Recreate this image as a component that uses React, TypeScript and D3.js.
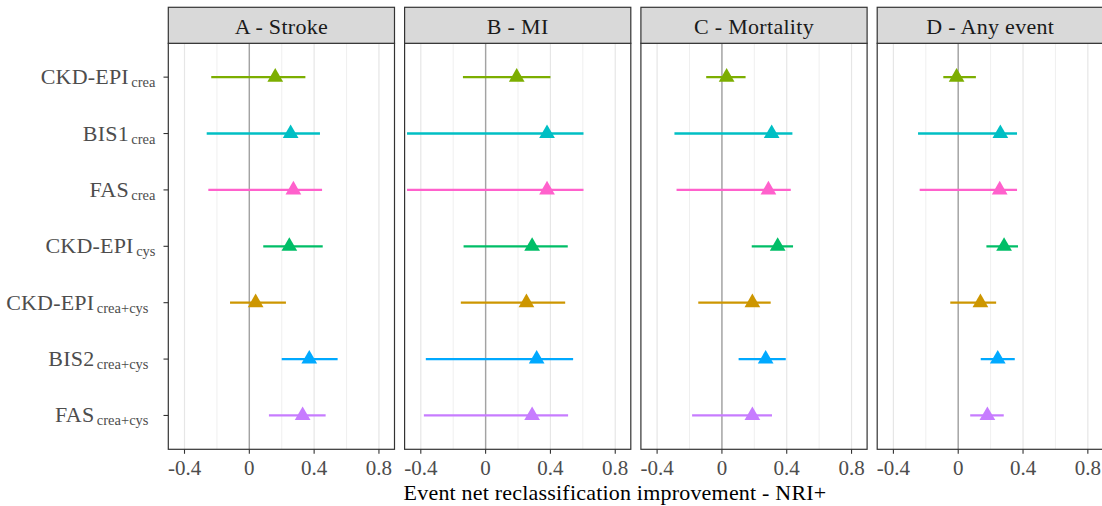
import React from "react";
import * as d3 from "d3";

// Panel (outcome) titles
const panelTitles = ["A - Stroke", "B - MI", "C - Mortality", "D - Any event"];

// GFR equations: main name and subscript
const modelNames = ["CKD-EPI", "BIS1", "FAS", "CKD-EPI", "CKD-EPI", "BIS2", "FAS"];
const modelSubs = ["crea", "crea", "crea", "cys", "crea+cys", "crea+cys", "crea+cys"];
const modelColors = ["#7CAE00", "#00BFC4", "#FF61CC", "#00BE67", "#CD9600", "#00A9FF", "#C77CFF"];

// Event NRI+ estimates with lower / upper 95% CI, one array per outcome
const strokeEst = [0.16, 0.255, 0.272, 0.247, 0.039, 0.37, 0.329];
const strokeLo = [-0.235, -0.263, -0.253, 0.086, -0.119, 0.2, 0.121];
const strokeHi = [0.346, 0.436, 0.449, 0.453, 0.226, 0.545, 0.471];

const miEst = [0.192, 0.379, 0.379, 0.287, 0.252, 0.315, 0.287];
const miLo = [-0.14, -0.485, -0.485, -0.136, -0.153, -0.369, -0.381];
const miHi = [0.4, 0.604, 0.604, 0.507, 0.491, 0.54, 0.509];

const mortEst = [0.029, 0.307, 0.287, 0.344, 0.188, 0.27, 0.188];
const mortLo = [-0.097, -0.293, -0.28, 0.184, -0.146, 0.103, -0.184];
const mortHi = [0.146, 0.435, 0.425, 0.439, 0.301, 0.394, 0.309];

const anyEst = [-0.01, 0.26, 0.256, 0.283, 0.137, 0.244, 0.18];
const anyLo = [-0.092, -0.248, -0.238, 0.174, -0.049, 0.139, 0.074];
const anyHi = [0.109, 0.363, 0.363, 0.369, 0.234, 0.349, 0.281];

const xTicks = [-0.4, 0, 0.4, 0.8];
const xTickLabels = ["-0.4", "0", "0.4", "0.8"];
const xMinorTicks = [-0.2, 0.2, 0.6];
const xTitle = "Event net reclassification improvement - NRI+";

const panelData = [
  { est: strokeEst, lo: strokeLo, hi: strokeHi },
  { est: miEst, lo: miLo, hi: miHi },
  { est: mortEst, lo: mortLo, hi: mortHi },
  { est: anyEst, lo: anyLo, hi: anyHi },
];

const W = 1102;
const H = 506;
const FONT = "'Liberation Serif', 'Times New Roman', serif";

export default function App() {
  const firstLeft = 168.3;
  const panelW = 226.2;
  const panelStep = 236.3;
  const stripTop = 7.3;
  const stripBottom = 43.3;
  const panelBottom = 449.3;

  const x = d3.scaleLinear().domain([-0.5, 0.896]).range([0, panelW]);
  const rowIdx = d3.range(modelNames.length);
  const y = d3
    .scalePoint<number>()
    .domain(rowIdx)
    .range([stripBottom, panelBottom])
    .padding(0.6);

  const tri = d3.symbol().type(d3.symbolTriangle).size(107)();

  const labelRight = 155.5;

  return (
    <svg
      width={W}
      height={H}
      style={{ position: "absolute", left: 0, top: 0, background: "#fff" }}
      fontFamily={FONT}
    >
      {/* y-axis labels with subscripts */}
      {rowIdx.map((i) => {
        const shift = modelSubs[i].includes("+") ? 7 : 0;
        return (
          <g key={"yl" + i}>
            <text
              x={labelRight - shift}
              y={y(i)! + 7}
              textAnchor="end"
              fontSize={22}
              letterSpacing={0.2}
              fill="#4d4d4d"
            >
              {modelNames[i]}
              <tspan dx={2.5} dy={3} fontSize={14.5} letterSpacing={0}>
                {modelSubs[i]}
              </tspan>
            </text>
            <line x1={163.5} x2={firstLeft} y1={y(i)} y2={y(i)} stroke="#333" strokeWidth={1.1} />
          </g>
        );
      })}

      {panelData.map((pd, p) => {
        const left = firstLeft + p * panelStep;
        return (
          <g key={"p" + p} transform={`translate(${left},0)`}>
            {/* grid */}
            {xMinorTicks.map((t) => (
              <line key={"mn" + t} x1={x(t)} x2={x(t)} y1={stripBottom} y2={panelBottom} stroke="#ebebeb" strokeWidth={0.8} />
            ))}
            {xTicks.map((t) => (
              <line key={"mj" + t} x1={x(t)} x2={x(t)} y1={stripBottom} y2={panelBottom} stroke="#e6e6e6" strokeWidth={1.2} />
            ))}
            {/* reference line at zero */}
            <line x1={x(0)} x2={x(0)} y1={stripBottom} y2={panelBottom} stroke="#a3a3a3" strokeWidth={1.4} />

            {/* confidence intervals and point estimates */}
            {rowIdx.map((i) => (
              <g key={"m" + i}>
                <line
                  x1={x(pd.lo[i])}
                  x2={x(pd.hi[i])}
                  y1={y(i)}
                  y2={y(i)}
                  stroke={modelColors[i]}
                  strokeWidth={2.3}
                />
                <path d={tri!} transform={`translate(${x(pd.est[i])},${y(i)})`} fill={modelColors[i]} />
              </g>
            ))}

            {/* panel border */}
            <rect x={0} y={stripBottom} width={panelW} height={panelBottom - stripBottom} fill="none" stroke="#333" strokeWidth={1.2} />

            {/* strip */}
            <rect x={0} y={stripTop} width={panelW} height={stripBottom - stripTop} fill="#d9d9d9" stroke="#333" strokeWidth={1.2} />
            <text x={panelW / 2} y={33.5} textAnchor="middle" fontSize={22} letterSpacing={0.3} fill="#1a1a1a">
              {panelTitles[p]}
            </text>

            {/* x axis ticks */}
            {xTicks.map((t, k) => (
              <g key={"xt" + t}>
                <line x1={x(t)} x2={x(t)} y1={panelBottom} y2={panelBottom + 4.5} stroke="#333" strokeWidth={1.1} />
                <text x={x(t)} y={475} textAnchor="middle" fontSize={21} fill="#4d4d4d">
                  {xTickLabels[k]}
                </text>
              </g>
            ))}
          </g>
        );
      })}

      <text x={615} y={499.5} textAnchor="middle" fontSize={22} letterSpacing={0.2} fill="#000">
        {xTitle}
      </text>
    </svg>
  );
}
